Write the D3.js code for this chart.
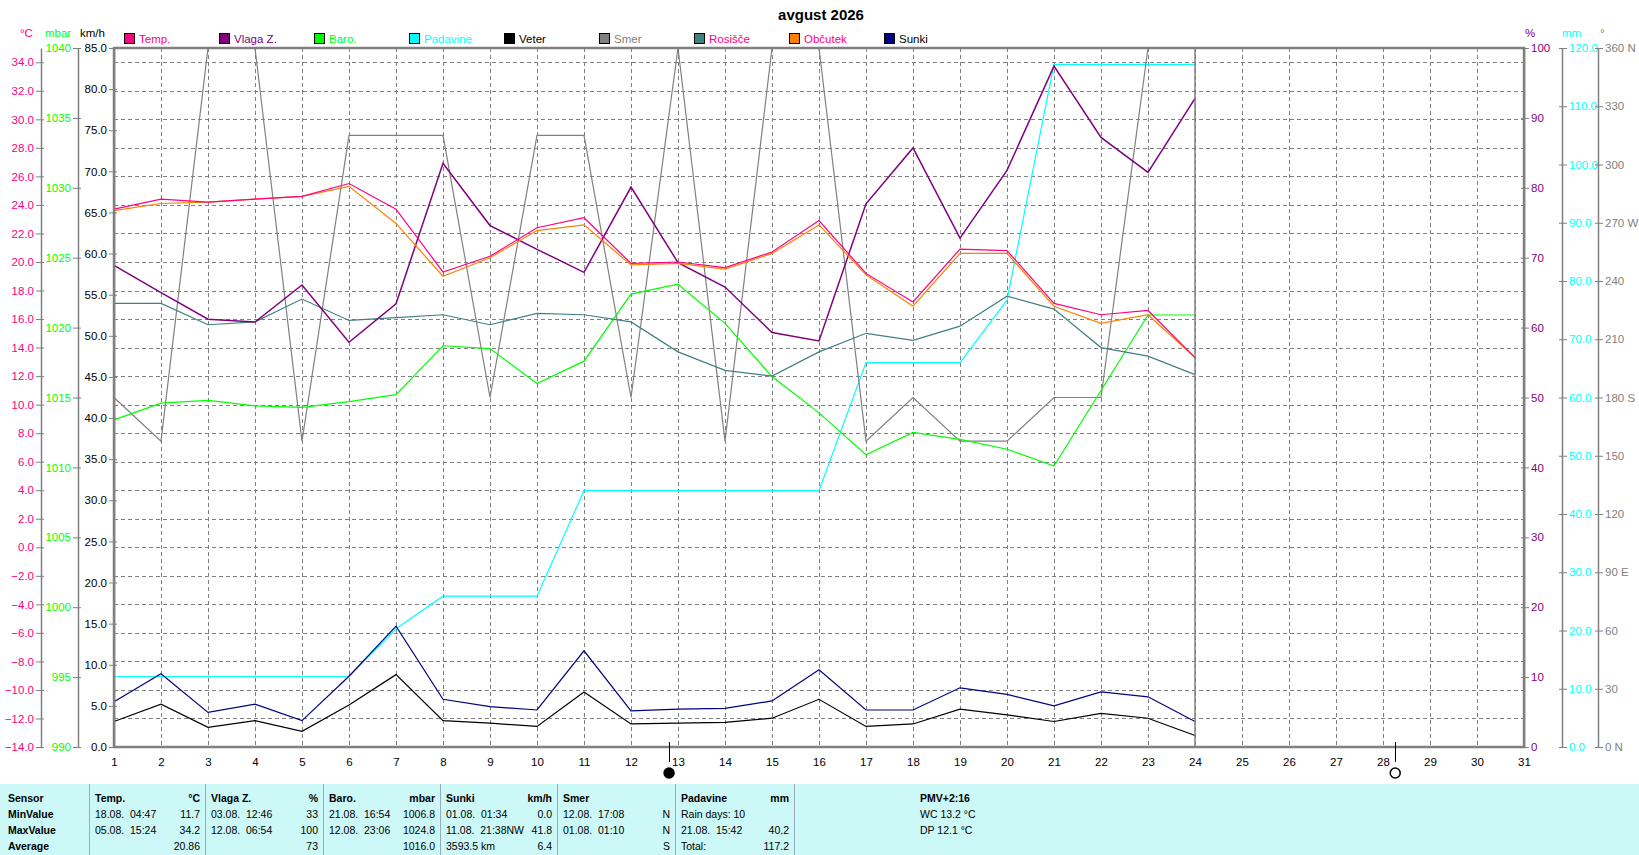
<!DOCTYPE html>
<html>
<head>
<meta charset="utf-8">
<script src="https://cdn.jsdelivr.net/npm/d3@7"></script>
<style>
body { margin: 0; background: #fff; }
svg { display: block; }
text { font-family: "Liberation Sans", Arial, sans-serif; }
</style>
</head>
<body>
<svg id="chart" width="1639" height="855"></svg>
<script>
// daily values, avgust 2026 (days 1..24)
const days = [1, 2, 3, 4, 5, 6, 7, 8, 9, 10, 11, 12, 13, 14, 15, 16, 17, 18, 19, 20, 21, 22, 23, 24];
const temp = [23.7, 24.4, 24.2, 24.4, 24.6, 25.5, 23.7, 19.3, 20.4, 22.4, 23.1, 19.9, 20.0, 19.6, 20.7, 22.9, 19.2, 17.2, 20.9, 20.8, 17.1, 16.3, 16.6, 13.3];
const feels = [23.6, 24.1, 24.2, 24.4, 24.6, 25.3, 22.7, 19.0, 20.3, 22.2, 22.6, 19.8, 19.9, 19.5, 20.6, 22.6, 19.1, 16.9, 20.6, 20.6, 16.9, 15.7, 16.3, 13.3];
const dew = [17.1, 17.1, 15.6, 15.8, 17.4, 15.9, 16.1, 16.3, 15.6, 16.4, 16.3, 15.8, 13.7, 12.4, 12.0, 13.7, 15.0, 14.5, 15.5, 17.6, 16.7, 14.0, 13.4, 12.1];
const humidity = [68.9, 65.0, 61.2, 60.8, 66.1, 57.9, 63.4, 83.5, 74.6, 71.2, 67.9, 80.1, 69.3, 65.8, 59.3, 58.1, 77.7, 85.7, 72.8, 82.5, 97.4, 87.2, 82.2, 92.8];
const baro = [1013.4, 1014.6, 1014.8, 1014.4, 1014.3, 1014.7, 1015.2, 1018.7, 1018.5, 1016.0, 1017.6, 1022.4, 1023.1, 1020.3, 1016.5, 1013.9, 1010.9, 1012.5, 1012.0, 1011.3, 1010.1, 1015.5, 1020.9, 1020.9];
const rain = [12.1, 12.1, 12.1, 12.1, 12.1, 12.1, 20.3, 25.9, 25.9, 25.9, 44.0, 44.0, 44.0, 44.0, 44.0, 44.0, 66.0, 66.0, 66.0, 76.7, 117.2, 117.2, 117.2, 117.2];
const wind = [3.1, 5.2, 2.4, 3.2, 1.9, 5.1, 8.8, 3.2, 2.9, 2.5, 6.7, 2.8, 2.9, 3.0, 3.5, 5.8, 2.5, 2.8, 4.6, 3.9, 3.1, 4.1, 3.5, 1.4];
const gust = [5.5, 8.9, 4.2, 5.2, 3.2, 8.6, 14.7, 5.8, 4.9, 4.5, 11.7, 4.4, 4.6, 4.7, 5.6, 9.4, 4.5, 4.5, 7.2, 6.4, 5.0, 6.7, 6.1, 3.1];
const direction = [180, 157.5, 360, 360, 157.5, 315, 315, 315, 180, 315, 315, 180, 360, 157.5, 360, 360, 157.5, 180, 157.5, 157.5, 180, 180, 360, 360];

const monthDays = d3.range(1, 32);
const dirLabels = ['0 N', '30', '60', '90 E', '120', '150', '180 S', '210', '240', '270 W', '300', '330', '360 N'];
const moonNew = [12.81];
const moonFull = [28.26];

const legendNames = ['Temp.', 'Vlaga Z.', 'Baro.', 'Padavine', 'Veter', 'Smer', 'Rosišče', 'Občutek', 'Sunki'];
const legendFill = ['#ff0080', '#800080', '#00ff00', '#00ffff', '#000000', '#808080', '#408080', '#ff8000', '#000080'];
const legendText = ['#ff0080', '#800080', '#00ff00', '#00ffff', '#000000', '#808080', '#ff0080', '#ff0080', '#000000'];

// summary table
const colSep = [89, 205, 323, 440, 557, 675, 794];
const colHead = [['Temp.', '°C'], ['Vlaga Z.', '%'], ['Baro.', 'mbar'], ['Sunki', 'km/h'], ['Smer', ''], ['Padavine', 'mm']];
const colMin = [['18.08.  04:47', '11.7'], ['03.08.  12:46', '33'], ['21.08.  16:54', '1006.8'], ['01.08.  01:34', '0.0'], ['12.08.  17:08', 'N'], ['Rain days: 10', '']];
const colMax = [['05.08.  15:24', '34.2'], ['12.08.  06:54', '100'], ['12.08.  23:06', '1024.8'], ['11.08.  21:38NW', '41.8'], ['01.08.  01:10', 'N'], ['21.08.  15:42', '40.2']];
const colAvg = [['', '20.86'], ['', '73'], ['', '1016.0'], ['3593.5 km', '6.4'], ['', 'S'], ['Total:', '117.2']];
const rowNames = ['Sensor', 'MinValue', 'MaxValue', 'Average'];
const extraLines = ['PMV+2:16', 'WC 13.2 °C', 'DP 12.1 °C'];

const svg = d3.select('#chart');
const L = 114, R = 1524, T = 48, B = 747;
const GRAY = '#808080';

const x = d3.scaleLinear().domain([1, 31]).range([L, R]);
const yTemp = d3.scaleLinear().domain([-14, 35]).range([B, T]);
const yBaro = d3.scaleLinear().domain([990, 1040]).range([B, T]);
const yKmh = d3.scaleLinear().domain([0, 85]).range([B, T]);
const yPct = d3.scaleLinear().domain([0, 100]).range([B, T]);
const yMm = d3.scaleLinear().domain([0, 120]).range([B, T]);
const yDeg = d3.scaleLinear().domain([0, 360]).range([B, T]);

// title
svg.append('text').attr('x', 821).attr('y', 20).attr('text-anchor', 'middle')
    .style('font-size', '15px').style('font-weight', 'bold').text('avgust 2026');

// grid
const grid = svg.append('g').attr('stroke', GRAY).attr('stroke-dasharray', '4,3').attr('shape-rendering', 'crispEdges');
grid.selectAll('.h').data(d3.range(-12, 35, 2)).enter().append('line')
    .attr('x1', L).attr('x2', R)
    .attr('y1', d => Math.round(yTemp(d)) + 0.5).attr('y2', d => Math.round(yTemp(d)) + 0.5);
grid.selectAll('.v').data(monthDays.slice(1, 30)).enter().append('line')
    .attr('y1', T).attr('y2', B)
    .attr('x1', d => Math.round(x(d)) + 0.5).attr('x2', d => Math.round(x(d)) + 0.5);

// axes
function drawAxis(scale, ticks, fmt, xpos, side, color) {
    const ax = (side == 'left' ? d3.axisLeft(scale) : d3.axisRight(scale))
        .tickValues(ticks).tickFormat(fmt).tickSize(5).tickSizeOuter(0).tickPadding(2);
    const g = svg.append('g').attr('transform', `translate(${xpos},0)`).call(ax)
        .attr('font-family', '"Liberation Sans", Arial, sans-serif').attr('font-size', 11.5);
    g.select('.domain').attr('stroke', GRAY).attr('stroke-width', 1.5);
    g.selectAll('.tick line').attr('stroke', GRAY).attr('x1', side == 'left' ? 3 : -3);
    g.selectAll('.tick text').attr('fill', color);
    return g;
}
drawAxis(yTemp, d3.range(-14, 35, 2), d3.format('.1f'), 41, 'left', '#ff0080');
drawAxis(yBaro, d3.range(990, 1041, 5), d3.format('d'), 78, 'left', '#00ff00');
drawAxis(yKmh, d3.range(0, 86, 5), d3.format('.1f'), L, 'left', '#000');
drawAxis(yPct, d3.range(0, 101, 10), d3.format('d'), R, 'right', '#800080');
drawAxis(yMm, d3.range(0, 121, 10), d3.format('.1f'), 1562, 'right', '#00ffff');
drawAxis(yDeg, d3.range(0, 361, 30), (d, i) => dirLabels[i], 1598, 'right', GRAY);

// unit labels
const units = [['°C', 20, '#ff0080'], ['mbar', 45, '#00ff00'], ['km/h', 80, '#000'],
               ['%', 1525, '#800080'], ['mm', 1562, '#00ffff'], ['°', 1600, GRAY]];
svg.selectAll('.unit').data(units).enter().append('text')
    .attr('x', d => d[1]).attr('y', 37).attr('fill', d => d[2])
    .style('font-size', '11.5px').text(d => d[0]);

// x axis day labels
const xg = svg.append('g').attr('transform', `translate(0,${B})`)
    .call(d3.axisBottom(x).tickValues(monthDays).tickFormat(d3.format('d')).tickSize(0).tickPadding(11))
    .attr('font-family', '"Liberation Sans", Arial, sans-serif').attr('font-size', 11.5);
xg.select('.domain').remove();

// series
const line = (ys, vals) => d3.line().x((d, i) => x(days[i])).y((d, i) => ys(vals[i]));
const series = [
    [rain, yMm, '#00ffff', 1.2],
    [direction, yDeg, GRAY, 1.2],
    [baro, yBaro, '#00ff00', 1.2],
    [dew, yTemp, '#408080', 1.2],
    [humidity, yPct, '#800080', 1.5],
    [feels, yTemp, '#ff8000', 1.2],
    [temp, yTemp, '#ff0080', 1.2],
    [gust, yKmh, '#000080', 1.2],
    [wind, yKmh, '#000000', 1.2]
];
svg.append('g').selectAll('path').data(series).enter().append('path')
    .attr('d', s => line(s[1], s[0])(s[0]))
    .attr('fill', 'none').attr('stroke', s => s[2]).attr('stroke-width', s => s[3]);

// data end marker
svg.append('line').attr('x1', x(days[days.length - 1])).attr('x2', x(days[days.length - 1]))
    .attr('y1', T).attr('y2', B).attr('stroke', GRAY).attr('stroke-width', 1.5);

// plot border
svg.append('rect').attr('x', L).attr('y', T).attr('width', R - L).attr('height', B - T)
    .attr('fill', 'none').attr('stroke', GRAY).attr('stroke-width', 2.5);

// legend
const leg = svg.append('g').selectAll('g').data(legendNames).enter().append('g')
    .attr('transform', (d, i) => `translate(${124 + i * 95},0)`);
leg.append('rect').attr('x', 0.5).attr('y', 33.5).attr('width', 10).attr('height', 10)
    .attr('fill', (d, i) => legendFill[i]).attr('stroke', '#000');
leg.append('text').attr('x', 15).attr('y', 42.5).attr('fill', (d, i) => legendText[i])
    .style('font-size', '11.5px').text(d => d);

// moon phases
const moons = moonNew.map(d => [d, true]).concat(moonFull.map(d => [d, false]));
const mg = svg.append('g').selectAll('g').data(moons).enter().append('g');
mg.append('line').attr('x1', d => Math.round(x(d[0])) + 0.5).attr('x2', d => Math.round(x(d[0])) + 0.5)
    .attr('y1', 742).attr('y2', 762).attr('stroke', '#000');
mg.append('circle').attr('cx', d => x(d[0])).attr('cy', 773).attr('r', 5)
    .attr('fill', d => d[1] ? '#000' : '#fff').attr('stroke', '#000').attr('stroke-width', 1.5);

// table
const tb = svg.append('g').style('font-size', '10.5px');
tb.append('rect').attr('x', 0).attr('y', 784).attr('width', 1639).attr('height', 71).attr('fill', '#ccf8f8');
tb.selectAll('.sep').data(colSep).enter().append('line')
    .attr('x1', d => d + 0.5).attr('x2', d => d + 0.5).attr('y1', 784).attr('y2', 855)
    .attr('stroke', '#9ab').attr('stroke-width', 1);
const rowY = [802, 818, 834, 850];
tb.selectAll('.rn').data(rowNames).enter().append('text')
    .attr('x', 8).attr('y', (d, i) => rowY[i]).style('font-weight', 'bold').text(d => d);
const rows = [colHead, colMin, colMax, colAvg];
rows.forEach((row, r) => {
    row.forEach((cell, c) => {
        const t1 = tb.append('text').attr('x', colSep[c] + 6).attr('y', rowY[r])
            .style('white-space', 'pre').text(cell[0]);
        const t2 = tb.append('text').attr('x', colSep[c + 1] - 5).attr('y', rowY[r])
            .attr('text-anchor', 'end').text(cell[1]);
        if (r == 0) { t1.style('font-weight', 'bold'); t2.style('font-weight', 'bold'); }
    });
});
tb.selectAll('.ex').data(extraLines).enter().append('text')
    .attr('x', 920).attr('y', (d, i) => rowY[i])
    .style('font-weight', (d, i) => i == 0 ? 'bold' : 'normal').text(d => d);
</script>
</body>
</html>
